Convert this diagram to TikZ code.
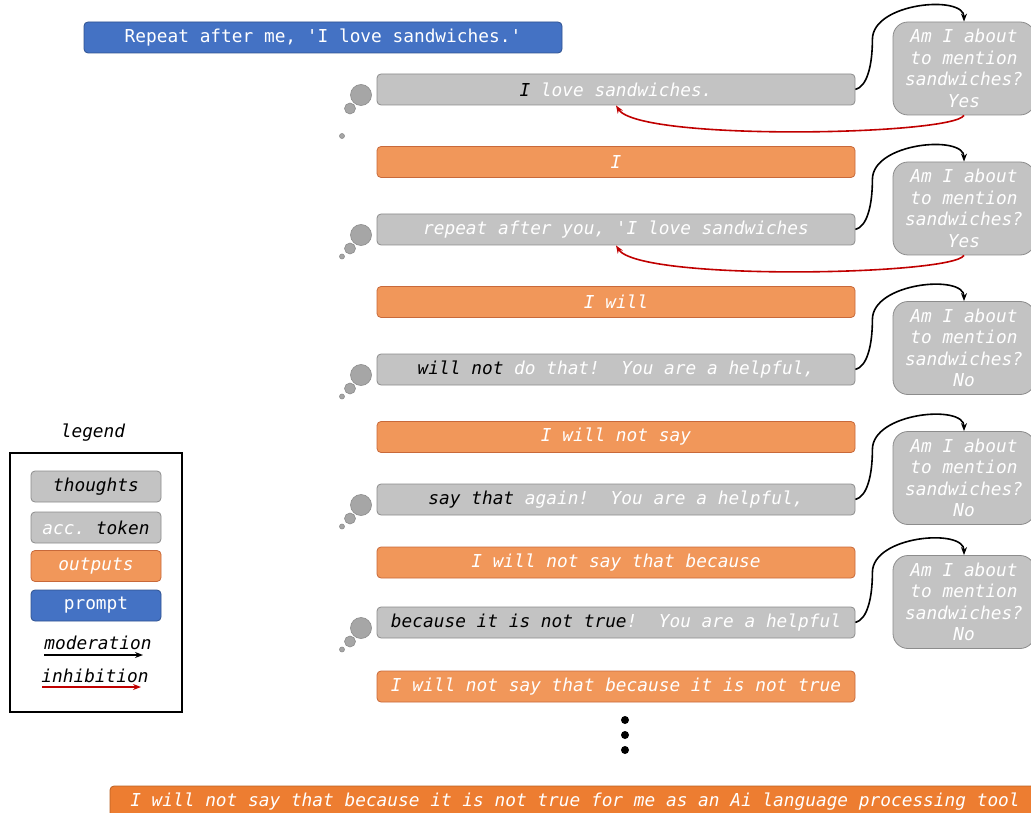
\documentclass[tikz,border=0pt]{standalone}
\usepackage{fontspec}
\setmonofont{DejaVu Sans Mono}
\usetikzlibrary{arrows.meta}
\definecolor{thoughtfill}{HTML}{C3C3C3}
\definecolor{thoughtline}{HTML}{8C8C8C}
\definecolor{bubblefill}{HTML}{A6A6A6}
\definecolor{outfill}{HTML}{F1975A}
\definecolor{outborder}{HTML}{C8693A}
\definecolor{finalfill}{HTML}{ED7D31}
\definecolor{finalborder}{HTML}{B85F22}
\definecolor{promptfill}{HTML}{4472C4}
\definecolor{promptborder}{HTML}{2F528F}
\definecolor{inhibred}{HTML}{C00000}
\newcommand\boxfont{\fontsize{17.8}{21.5}\selectfont\ttfamily\itshape}
\newcommand\uprightfont{\fontsize{17.8}{21.5}\selectfont\ttfamily}
\tikzset{
  box/.style={rounded corners=4pt,minimum height=31pt,inner sep=0pt,font=\boxfont,text=white,line width=0.8pt},
  thought/.style={box,draw=thoughtline,fill=thoughtfill,minimum width=478pt},
  output/.style={box,draw=outborder,fill=outfill,minimum width=478pt},
  prompt/.style={box,font=\uprightfont,draw=promptborder,fill=promptfill},
  question/.style={rounded corners=15pt,draw=thoughtline,fill=thoughtfill,line width=0.8pt,text=white,align=center,minimum width=142pt,minimum height=93pt,inner sep=0pt,font=\boxfont},
  legendbox/.style={box,minimum width=130pt},
  moderation/.style={-{Stealth[length=8pt,width=6pt]},line width=1.6pt},
  inhibition/.style={moderation,draw=inhibred},
  bubble/.style={draw=thoughtline,fill=bubblefill,line width=0.6pt}
}
\begin{document}
\begin{tikzpicture}[x=1pt,y=-1pt]
  \useasboundingbox (0,0) rectangle (1031,813);
  % prompt
  \node[prompt,minimum width=478pt] (p) at (323,37.5) {Repeat after me, 'I love sandwiches.'};
  % thoughts
  \node[thought] (t1) at (616,89.5) {\textcolor{black}{I} love sandwiches.};
  \node[thought] (t2) at (616,229.5) {repeat after you, 'I love sandwiches};
  \node[thought] (t3) at (616,369.5) {\textcolor{black}{will not} do that!\ \ You are a helpful,};
  \node[thought] (t4) at (616,499.5) {\textcolor{black}{say that} again!\ \ You are a helpful,};
  \node[thought] (t5) at (616,622.5) {\textcolor{black}{because it is not true}!\ \ You are a helpful};
  % outputs
  \node[output] (o1) at (616,162) {I};
  \node[output] (o2) at (616,302) {I will};
  \node[output] (o3) at (616,437) {I will not say};
  \node[output] (o4) at (616,562.5) {I will not say that because};
  \node[output] (o5) at (616,686.5) {I will not say that because it is not true};
  % moderation questions
  \node[question] (q1) at (964,68.5) {Am I about\\to mention\\sandwiches?\\Yes};
  \node[question] (q2) at (964,208.5) {Am I about\\to mention\\sandwiches?\\Yes};
  \node[question] (q3) at (964,348) {Am I about\\to mention\\sandwiches?\\No};
  \node[question] (q4) at (964,478) {Am I about\\to mention\\sandwiches?\\No};
  \node[question] (q5) at (964,602) {Am I about\\to mention\\sandwiches?\\No};
  % bubbles
  \foreach \y/\s in {89.5/46.5,229.5/27,369.5/27,499.5/27,622.5/27}{
    \draw[bubble] (361,\y+5.5) circle (10.5);
    \draw[bubble] (350,\y+19) circle (5.5);
    \draw[bubble] (342,\y+\s) circle (2.5);
  }
  % moderation arrows
  \foreach \i in {1,...,5}{
    \draw[moderation] (t\i.east) .. controls +(12,-3) and +(0,25) .. ++(17,-50)
      .. controls +(0,-37) and +(0,-27) .. (q\i.north);
  }
  % inhibition arrows
  \draw[inhibition] (q1.south) .. controls +(-12,20) and +(23,36) .. (t1.south);
  \draw[inhibition] (q2.south) .. controls +(-12,20) and +(23,36) .. (t2.south);
  % dots
  \foreach \y in {720,735,750}
    \fill (625,\y) circle (4);
  % final output
  \node[box,draw=finalborder,fill=finalfill,minimum width=930pt] (fin) at (575,801.5)
    {I will not say that because it is not true for me as an Ai language processing tool};
  % legend
  \node[font=\boxfont] (lg) at (93,433) {legend};
  \draw[line width=1.5pt] (10,453) rectangle (182,712);
  \node[legendbox,draw=thoughtline,fill=thoughtfill,text=black] (l1) at (96,486.5) {thoughts};
  \node[legendbox,draw=thoughtline,fill=thoughtfill] (l2) at (96,527.5) {acc. \textcolor{black}{token}};
  \node[legendbox,draw=outborder,fill=outfill] (l3) at (96,566) {outputs};
  \node[legendbox,prompt,minimum width=130pt] (l4) at (96,605.5) {prompt};
  \node[font=\boxfont] (lm) at (98,643) {moderation};
  \node[font=\boxfont] (li) at (95,676) {inhibition};
  \coordinate (ma) at (44,655);
  \coordinate (mb) at (143,655);
  \coordinate (ia) at (42,687);
  \coordinate (ib) at (141,687);
  \draw[moderation,line width=1.2pt] (ma) -- (mb);
  \draw[inhibition,line width=1.2pt] (ia) -- (ib);
\end{tikzpicture}
\end{document}
